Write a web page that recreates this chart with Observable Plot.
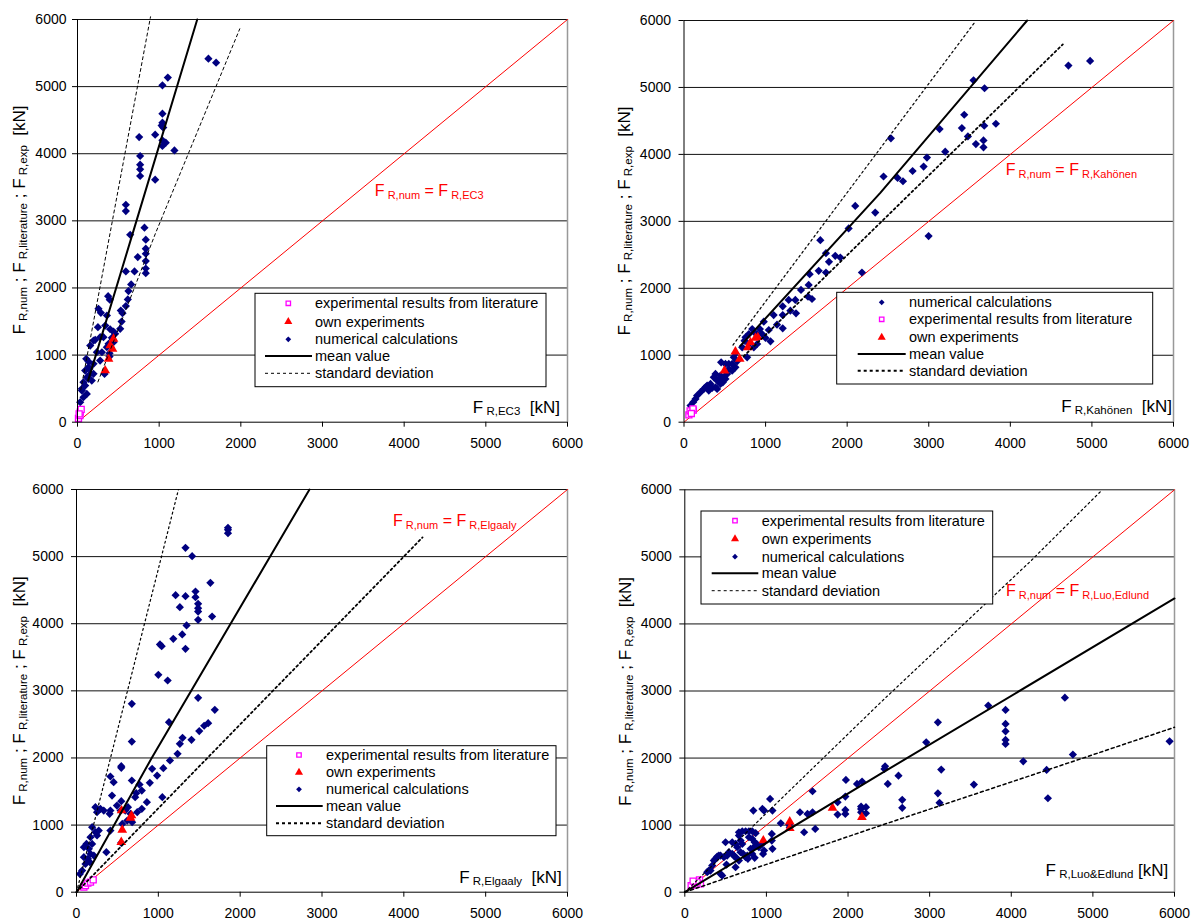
<!DOCTYPE html>
<html><head><meta charset="utf-8">
<script src="https://cdn.jsdelivr.net/npm/d3@7"></script>
<script src="https://cdn.jsdelivr.net/npm/@observablehq/plot@0.6"></script>
<style>
body{margin:0;background:#fff;}
#root{position:relative;width:1198px;height:922px;background:#fff;font-family:"Liberation Sans",Arial,sans-serif;}
.panel{position:absolute;}
</style></head><body><div id="root"></div>
<script>
// ---------- shared ----------
const ticks = [0, 1000, 2000, 3000, 4000, 5000, 6000];
const gridTicks = [1000, 2000, 3000, 4000, 5000, 6000];
const equality = [[0, 0], [6000, 6000]];
const legendLabels = {
  lit: "experimental results from literature",
  own: "own experiments",
  num: "numerical calculations",
  mean: "mean value",
  std: "standard deviation"
};

// ---------- panel 1 : EC3 ----------
const ec3Numerical = [[1603,5417],[1697,5357],[1106,5134],[1040,5020],[1040,4597],[1040,4463],[1030,4420],[1050,4390],[755,4249],[951,4284],[1040,4200],[1081,4165],[1040,4115],[1187,4050],[767,3966],[767,3837],[767,3767],[767,3668],[951,3613],[592,3240],[592,3146],[645,2793],[820,2898],[836,2719],[836,2585],[836,2510],[836,2400],[836,2290],[836,2220],[738,2460],[592,2246],[698,2246],[657,2053],[624,1953],[616,1829],[592,1730],[530,1663],[551,1625],[540,1500],[523,1391],[375,1878],[395,1825],[257,1690],[286,1630],[250,1415],[360,1590],[340,1440],[400,1385],[441,1351],[421,1257],[441,1191],[380,1167],[278,1266],[217,1227],[156,1142],[196,1217],[299,1042],[392,1027],[392,978],[331,720],[107,944],[135,904],[196,870],[135,819],[94,770],[156,720],[115,670],[73,596],[94,546],[54,472],[73,372],[33,298],[237,1044],[277,919],[147,795],[196,721],[175,621],[114,422],[53,497],[135,646],[359,1118],[461,1317],[432,1233],[318,1267]];
const ec3Own = [[401,1142],[429,1093],[380,944],[441,1241],[339,770]];
const ec3Literature = [[12,55],[30,100],[33,150],[45,190],[20,125]];
const ec3Mean = [[130,620],[686,2854],[1466,6000]];
const ec3StdUpper = [[40,481],[176,1365],[894,6040]];
const ec3StdLower = [[250,600],[952,2805],[1987,5861]];

// ---------- panel 2 : Kahönen ----------
const kahNumerical = [[4712,5326],[4978,5396],[3549,5107],[3684,4988],[3435,4592],[3406,4393],[3133,4378],[3680,4428],[3823,4458],[3480,4269],[3578,4154],[3671,4209],[3671,4105],[3202,4041],[2978,3952],[2937,3818],[2802,3752],[2536,4240],[2446,3670],[2618,3648],[2684,3599],[2998,2780],[2099,3231],[2344,3131],[2018,2894],[1671,2719],[1740,2525],[1777,2396],[1854,2485],[1916,2460],[1651,2261],[1740,2236],[2181,2236],[1540,2211],[1528,2050],[1434,1975],[1520,1875],[1569,1840],[1283,1826],[1365,1826],[1304,1665],[1373,1626],[1210,1731],[1210,1600],[1099,1600],[1140,1456],[1210,1402],[978,1501],[1039,1377],[1060,1208],[930,1392],[958,1317],[999,1258],[897,1317],[836,1392],[795,1317],[864,1342],[897,1168],[856,1118],[795,1168],[754,1268],[742,1218],[713,1118],[774,969],[630,1029],[610,969],[651,910],[455,895],[508,870],[549,870],[590,870],[630,820],[549,795],[590,770],[529,721],[488,671],[447,696],[386,721],[365,671],[406,621],[427,646],[325,572],[284,547],[263,522],[243,497],[202,448],[161,398],[141,348],[112,298],[80,249],[345,512],[386,522],[406,497],[304,472],[447,572],[508,646],[476,596]];
const kahOwn = [[496,770],[630,1054],[683,944],[782,1118],[815,1193],[876,1258],[905,1268]];
const kahLiterature = [[60,110],[75,170],[115,180],[110,200],[90,130]];
const kahMean = [[690,1140],[2406,3425],[4206,6000]];
const kahStdUpper = [[600,1152],[2406,4090],[3569,5981]];
const kahStdLower = [[730,983],[2406,2978],[4643,5643]];

// ---------- panel 3 : Elgaaly ----------
const elgNumerical = [[1851,5430],[1851,5400],[1851,5350],[1332,5131],[1413,5007],[1636,4609],[1211,4426],[1332,4411],[1454,4480],[1454,4396],[1486,4297],[1486,4232],[1486,4182],[1486,4058],[1263,4247],[1657,4108],[1345,3974],[1183,3775],[1292,3840],[1020,3691],[1041,3666],[1332,3626],[1000,3239],[1114,3154],[676,2806],[1486,2896],[1690,2717],[1130,2533],[1609,2518],[1560,2480],[1500,2400],[1296,2300],[1263,2210],[1405,2270],[676,2245],[1235,2061],[1142,1962],[1061,1848],[924,1838],[985,1738],[896,1629],[798,1515],[770,1604],[676,1664],[547,1877],[547,1853],[414,1724],[454,1639],[434,1440],[730,1475],[717,1416],[860,1341],[798,1242],[1049,1416],[547,1356],[629,1267],[596,1217],[660,1167],[742,1192],[494,1291],[539,1217],[559,1018],[547,735],[620,1068],[680,1043],[414,919],[365,596],[414,1217],[405,1167],[251,1192],[292,1242],[333,1217],[231,1267],[171,820],[231,894],[272,919],[191,969],[251,845],[122,720],[151,646],[171,571],[139,497],[163,447],[212,546],[90,522],[110,422],[69,323],[41,273],[191,720],[90,671]];
const elgOwn = [[551,1217],[559,929],[547,745],[660,1108],[672,1142]];
const elgLiterature = [[90,75],[110,99],[139,134],[171,149],[204,184]];
const elgMean = [[0,0],[919,2000],[2847,6000]];
const elgStdUpper = [[0,0],[1246,6000]];
const elgStdLower = [[0,0],[4228,5286]];

// ---------- panel 4 : Luo & Edlund ----------
const luoNumerical = [[840,1217],[951,1242],[971,1217],[1045,1391],[1074,1217],[1176,1028],[1066,869],[1066,770],[1074,646],[971,621],[959,571],[1278,1008],[1286,969],[1411,1192],[1462,894],[1503,1167],[1565,1505],[1565,1192],[1598,944],[1872,1341],[1974,1674],[1967,1426],[1967,1227],[1967,1167],[1872,1157],[2110,1614],[2172,1649],[2160,1242],[2160,1192],[2160,1277],[2220,1267],[2220,1177],[2454,1877],[2446,1838],[2487,1614],[2618,1738],[2664,1377],[2664,1258],[663,894],[704,909],[745,909],[786,909],[827,909],[868,880],[786,820],[827,795],[856,745],[880,720],[847,671],[806,646],[827,571],[765,546],[856,512],[908,671],[949,720],[663,845],[683,770],[704,720],[581,745],[622,720],[642,671],[499,745],[540,596],[581,571],[601,546],[622,522],[519,546],[479,522],[438,546],[417,546],[397,531],[356,472],[376,497],[336,397],[294,323],[274,298],[315,323],[438,273],[458,248],[622,373],[511,412],[683,596],[716,571],[745,522],[773,497],[634,507],[663,472],[2958,2235],[3101,2533],[3142,1828],[3101,1475],[3121,1332],[3542,1605],[3718,2782],[3930,2718],[3930,2509],[3930,2399],[3930,2271],[3930,2211],[4147,1952],[4433,1823],[4449,1401],[4657,2901],[4755,2052],[5940,2250]];
const luoOwn = [[962,770],[1286,1053],[1286,954],[1810,1257],[2170,1118]];
const luoLiterature = [[78,99],[123,114],[180,184],[192,124],[151,149],[102,164]];
const luoMean = [[0,0],[2398,1764],[6000,4380]];
const luoStdUpper = [[0,0],[2400,2830],[4240,4940],[5115,6000]];
const luoStdLower = [[0,0],[2398,994],[4850,1988],[6000,2459]];

// ---------- panel configuration ----------
const panels = [
  { left: 0, top: 0, ml: 77, mr: 32, mt: 19, mb: 39.3, yPad: 6,
    num: ec3Numerical, own: ec3Own, lit: ec3Literature, mean: ec3Mean, stdU: ec3StdUpper, stdL: ec3StdLower,
    stdUStyle: {w: 1, d: "3,3"}, stdLStyle: {w: 1, d: "3,3"},
    sub: " R,EC3", xGap: "  [kN]", xLabelAt: [5914, 134], noteAt: [3647, 3361],
    yLabel: [25, 220],
    legend: { box: [255, 293.3, 546, 386.7], mx: 288.3, tx: 315, lx: [265, 312], rows: [303.3, 321.7, 339.3, 356, 373.3],
      order: ["lit", "own", "num", "mean", "std"], std: {w: 1, d: "3,3"} } },
  { left: 599, top: 0, ml: 84.5, mr: 25, mt: 20, mb: 39.3, yPad: 8,
    num: kahNumerical, own: kahOwn, lit: kahLiterature, mean: kahMean, stdU: kahStdUpper, stdL: kahStdLower,
    stdUStyle: {w: 1.2, d: "2,3"}, stdLStyle: {w: 1.8, d: "2,3"},
    sub: " R,Kahönen", xGap: "  [kN]", xLabelAt: [5988, 138], noteAt: [3949, 3687],
    yLabel: [31, 221],
    legend: { box: [237.7, 292.3, 553.7, 384], mx: 282.7, tx: 310, lx: [258.7, 306.7], rows: [302.3, 319.3, 337.3, 354, 370.7],
      order: ["num", "lit", "own", "mean", "std"], std: {w: 2, d: "3,3"} } },
  { left: 0, top: 461, ml: 76, mr: 32, mt: 28, mb: 30.3, yPad: 8,
    num: elgNumerical, own: elgOwn, lit: elgLiterature, mean: elgMean, stdU: elgStdUpper, stdL: elgStdLower,
    stdUStyle: {w: 1.2, d: "2,3"}, stdLStyle: {w: 1.8, d: "2,3"},
    sub: " R,Elgaaly", xGap: "  [kN]", xLabelAt: [5935, 134], noteAt: [3874, 5449],
    yLabel: [25, 229.8],
    legend: { box: [266.7, 284.7, 556, 374.7], mx: 299, tx: 326, lx: [276, 322.7], rows: [294, 311.3, 328.3, 345, 362.3],
      order: ["lit", "own", "num", "mean", "std"], std: {w: 2, d: "3,3"} } },
  { left: 599, top: 461, ml: 85.3, mr: 24, mt: 28.3, mb: 30.3, yPad: 8,
    num: luoNumerical, own: luoOwn, lit: luoLiterature, mean: luoMean, stdU: luoStdUpper, stdL: luoStdLower,
    stdUStyle: {w: 1.2, d: "2,3"}, stdLStyle: {w: 1.5, d: "3,3"},
    sub: " R,Luo&Edlund", xGap: " [kN]", xLabelAt: [5930, 238], noteAt: [3942, 4406], noteSub: " R,Luo,Edlund",
    yLabel: [32, 230.5],
    legend: { box: [102, 50, 393.7, 143], mx: 136, tx: 162.7, lx: [112.7, 159.3], rows: [59.7, 78, 95.7, 112.3, 129.7],
      order: ["lit", "own", "num", "mean", "std"], std: {w: 1, d: "3,3"} } }
];

const NAVY = "#000080", RED = "#ff0000", MAGENTA = "#ff00ff";
const R_NUM = 3.7, R_OWN = 3.6, R_LIT = 3.4;
const FONT = "Liberation Sans, Arial, sans-serif";

function rich(text, parts) {
  let cur = 0;
  for (const [t, size, shift = 0] of parts) {
    text.append("tspan").attr("font-size", size).attr("dy", shift - cur).text(t);
    cur = shift;
  }
}

const root = document.getElementById("root");

for (const p of panels) {
  const X = d => d[0], Y = d => d[1];
  const chart = Plot.plot({
    width: 599, height: 461,
    marginLeft: p.ml, marginRight: p.mr, marginTop: p.mt, marginBottom: p.mb,
    x: { domain: [0, 6000] },
    y: { domain: [0, 6000] },
    style: { fontFamily: FONT, fontSize: "14px", color: "#000", background: "#fff", overflow: "visible" },
    marks: [
      Plot.gridY(gridTicks, { stroke: "#111", strokeOpacity: 1, strokeWidth: 1 }),
      Plot.ruleX([6000], { stroke: "#999", strokeWidth: 1.5 }),
      Plot.line(equality, { x: X, y: Y, stroke: RED, strokeWidth: 1 }),
      Plot.dot(p.num, { x: X, y: Y, symbol: "diamond2", r: R_NUM, fill: NAVY, stroke: "none" }),
      Plot.dot(p.own, { x: X, y: Y, symbol: "triangle", r: R_OWN, fill: RED, stroke: "none" }),
      Plot.dot(p.lit, { x: X, y: Y, symbol: "square", r: R_LIT, fill: "#fff", stroke: MAGENTA, strokeWidth: 1.3 }),
      Plot.line(p.mean, { x: X, y: Y, stroke: "#000", strokeWidth: 2 }),
      Plot.line(p.stdU, { x: X, y: Y, stroke: "#000", strokeWidth: p.stdUStyle.w, strokeDasharray: p.stdUStyle.d }),
      Plot.line(p.stdL, { x: X, y: Y, stroke: "#000", strokeWidth: p.stdLStyle.w, strokeDasharray: p.stdLStyle.d }),
      Plot.ruleX([0], { stroke: "#000" }),
      Plot.ruleY([0], { stroke: "#000" }),
      Plot.axisX({ ticks, tickSize: 5, tickPadding: 11, label: null, anchor: "bottom", tickFormat: d => String(d) }),
      Plot.axisY({ ticks, tickSize: 5, tickPadding: p.yPad, label: null, anchor: "left", tickFormat: d => String(d) })
    ]
  });
  const div = document.createElement("div");
  div.className = "panel";
  div.style.left = p.left + "px";
  div.style.top = p.top + "px";
  div.appendChild(chart);
  root.appendChild(div);

  const svg = d3.select(chart);
  const sx = chart.scale("x"), sy = chart.scale("y");

  // y-axis title
  const yt = svg.append("text")
    .attr("transform", `translate(${p.yLabel[0]},${p.yLabel[1]}) rotate(-90)`)
    .attr("text-anchor", "middle").attr("fill", "#000")
    .attr("font-family", FONT).style("white-space", "pre");
  rich(yt, [["F", 17], [" R,num", 11.5, 2], [" ; F", 17], [" R,literature", 11.5, 2], [" ; F", 17], [" R,exp", 11.5, 2], ["  [kN]", 17]]);

  // x-axis title
  const xt = svg.append("text")
    .attr("x", sx.apply(p.xLabelAt[0])).attr("y", sy.apply(p.xLabelAt[1]))
    .attr("text-anchor", "end").attr("fill", "#000")
    .attr("font-family", FONT).style("white-space", "pre");
  rich(xt, [["F", 17], [p.sub, 11.5, 2], [p.xGap, 17]]);

  // red equality annotation
  const nt = svg.append("text")
    .attr("x", sx.apply(p.noteAt[0])).attr("y", sy.apply(p.noteAt[1]))
    .attr("text-anchor", "start")
    .attr("fill", RED).attr("font-family", FONT).style("white-space", "pre");
  rich(nt, [["F", 16], [" R,num", 11, 3], [" = F", 16], [p.noteSub || p.sub, 11, 3]]);

  // legend
  const L = p.legend;
  const g = svg.append("g").attr("text-anchor", "start");
  g.append("rect").attr("x", L.box[0]).attr("y", L.box[1])
    .attr("width", L.box[2] - L.box[0]).attr("height", L.box[3] - L.box[1])
    .attr("fill", "#fff").attr("stroke", "#000").attr("stroke-width", 1);
  L.order.forEach((k, i) => {
    const y = L.rows[i];
    if (k === "num") {
      g.append("path").attr("transform", `translate(${L.mx},${y})`)
        .attr("d", d3.symbol(d3.symbolDiamond2, Math.PI * 2.6 * 2.6)()).attr("fill", NAVY);
    } else if (k === "own") {
      g.append("path").attr("transform", `translate(${L.mx},${y})`)
        .attr("d", d3.symbol(d3.symbolTriangle, Math.PI * 3 * 3)()).attr("fill", RED);
    } else if (k === "lit") {
      g.append("path").attr("transform", `translate(${L.mx},${y})`)
        .attr("d", d3.symbol(d3.symbolSquare, Math.PI * 2.5 * 2.5)()).attr("fill", "#fff")
        .attr("stroke", MAGENTA).attr("stroke-width", 1.3);
    } else if (k === "mean") {
      g.append("line").attr("x1", L.lx[0]).attr("x2", L.lx[1]).attr("y1", y).attr("y2", y)
        .attr("stroke", "#000").attr("stroke-width", 2);
    } else {
      g.append("line").attr("x1", L.lx[0]).attr("x2", L.lx[1]).attr("y1", y).attr("y2", y)
        .attr("stroke", "#000").attr("stroke-width", L.std.w).attr("stroke-dasharray", L.std.d);
    }
    g.append("text").attr("x", L.tx).attr("y", y).attr("dy", "0.35em")
      .attr("text-anchor", "start")
      .attr("font-family", FONT).attr("font-size", 14.5).attr("fill", "#000")
      .text(legendLabels[k]);
  });
}
</script>
</body></html>
